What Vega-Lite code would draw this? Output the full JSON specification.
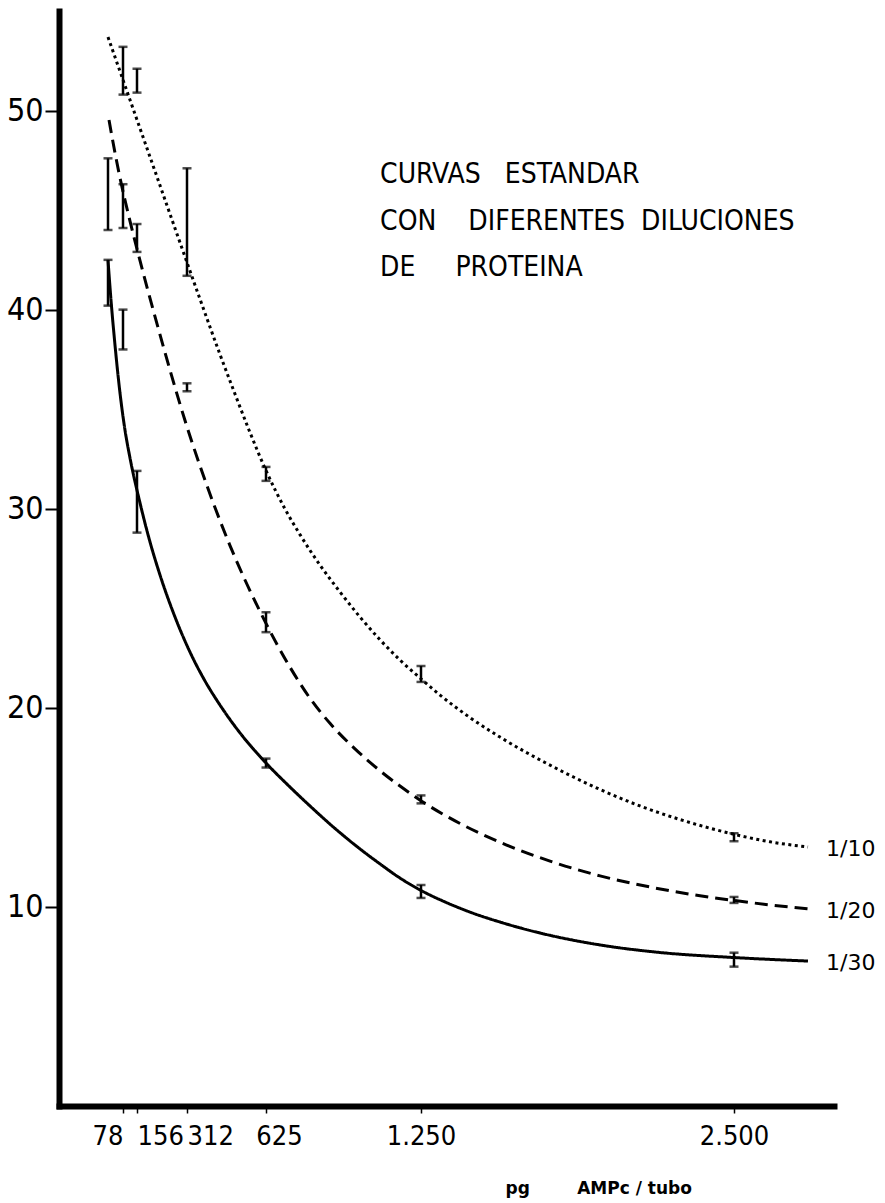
{
  "$schema": "https://vega.github.io/schema/vega-lite/v6.json",
  "autosize": "none",
  "padding": {"left": 59, "top": 11, "right": 51, "bottom": 97},
  "width": 775,
  "height": 1095,
  "background": "white",
  "config": {"view": {"stroke": null}},
  "datasets": {
    "curves": [
      {"series": "1/10", "x": 0, "y": 53.69},
      {"series": "1/10", "x": 196.6, "y": 47.67},
      {"series": "1/10", "x": 363.5, "y": 40.53},
      {"series": "1/10", "x": 442.7, "y": 37.75},
      {"series": "1/10", "x": 502.2, "y": 35.76},
      {"series": "1/10", "x": 561.6, "y": 33.83},
      {"series": "1/10", "x": 625, "y": 31.92},
      {"series": "1/10", "x": 701.6, "y": 29.99},
      {"series": "1/10", "x": 762.1, "y": 28.7},
      {"series": "1/10", "x": 842.7, "y": 27.17},
      {"series": "1/10", "x": 923.4, "y": 25.82},
      {"series": "1/10", "x": 1004, "y": 24.56},
      {"series": "1/10", "x": 1084.6, "y": 23.42},
      {"series": "1/10", "x": 1165.3, "y": 22.4},
      {"series": "1/10", "x": 1245.9, "y": 21.5},
      {"series": "1/10", "x": 1325.9, "y": 20.64},
      {"series": "1/10", "x": 1445.7, "y": 19.51},
      {"series": "1/10", "x": 1565.5, "y": 18.53},
      {"series": "1/10", "x": 1765.2, "y": 17.12},
      {"series": "1/10", "x": 1964.9, "y": 15.9},
      {"series": "1/10", "x": 2124.7, "y": 15.07},
      {"series": "1/10", "x": 2284.4, "y": 14.39},
      {"series": "1/10", "x": 2496, "y": 13.66},
      {"series": "1/10", "x": 2644, "y": 13.27},
      {"series": "1/10", "x": 2796, "y": 13.01},
      {"series": "1/20", "x": 5.2, "y": 49.53},
      {"series": "1/20", "x": 31.2, "y": 48.14},
      {"series": "1/20", "x": 62.4, "y": 46.62},
      {"series": "1/20", "x": 117, "y": 44.45},
      {"series": "1/20", "x": 165.4, "y": 42.46},
      {"series": "1/20", "x": 212.2, "y": 39.65},
      {"series": "1/20", "x": 259, "y": 36.96},
      {"series": "1/20", "x": 305.8, "y": 34.43},
      {"series": "1/20", "x": 363.5, "y": 32.15},
      {"series": "1/20", "x": 422.9, "y": 30.06},
      {"series": "1/20", "x": 482.4, "y": 28.15},
      {"series": "1/20", "x": 541.8, "y": 26.42},
      {"series": "1/20", "x": 601.2, "y": 24.84},
      {"series": "1/20", "x": 625, "y": 24.24},
      {"series": "1/20", "x": 721.8, "y": 22.04},
      {"series": "1/20", "x": 802.4, "y": 20.48},
      {"series": "1/20", "x": 883, "y": 19.22},
      {"series": "1/20", "x": 983.8, "y": 17.94},
      {"series": "1/20", "x": 1084.6, "y": 16.84},
      {"series": "1/20", "x": 1165.3, "y": 16.07},
      {"series": "1/20", "x": 1254, "y": 15.3},
      {"series": "1/20", "x": 1405.8, "y": 14.19},
      {"series": "1/20", "x": 1565.5, "y": 13.25},
      {"series": "1/20", "x": 1765.2, "y": 12.3},
      {"series": "1/20", "x": 1964.9, "y": 11.56},
      {"series": "1/20", "x": 2164.6, "y": 11.0},
      {"series": "1/20", "x": 2364.3, "y": 10.56},
      {"series": "1/20", "x": 2496, "y": 10.33},
      {"series": "1/20", "x": 2644, "y": 10.1},
      {"series": "1/20", "x": 2796, "y": 9.9},
      {"series": "1/30", "x": 0, "y": 42.49},
      {"series": "1/30", "x": 15.6, "y": 40.48},
      {"series": "1/30", "x": 36.4, "y": 38.22},
      {"series": "1/30", "x": 62.4, "y": 35.81},
      {"series": "1/30", "x": 89.1, "y": 33.95},
      {"series": "1/30", "x": 117, "y": 32.55},
      {"series": "1/30", "x": 165.4, "y": 30.29},
      {"series": "1/30", "x": 196.6, "y": 28.33},
      {"series": "1/30", "x": 227.8, "y": 26.67},
      {"series": "1/30", "x": 274.6, "y": 24.56},
      {"series": "1/30", "x": 323.9, "y": 22.8},
      {"series": "1/30", "x": 383.3, "y": 21.35},
      {"series": "1/30", "x": 442.7, "y": 20.14},
      {"series": "1/30", "x": 522, "y": 18.74},
      {"series": "1/30", "x": 625, "y": 17.23},
      {"series": "1/30", "x": 721.8, "y": 16.02},
      {"series": "1/30", "x": 802.4, "y": 15.07},
      {"series": "1/30", "x": 883, "y": 14.16},
      {"series": "1/30", "x": 983.8, "y": 13.11},
      {"series": "1/30", "x": 1084.6, "y": 12.16},
      {"series": "1/30", "x": 1165.3, "y": 11.45},
      {"series": "1/30", "x": 1254, "y": 10.8},
      {"series": "1/30", "x": 1345.9, "y": 10.25},
      {"series": "1/30", "x": 1445.7, "y": 9.74},
      {"series": "1/30", "x": 1565.5, "y": 9.24},
      {"series": "1/30", "x": 1725.3, "y": 8.69},
      {"series": "1/30", "x": 1964.9, "y": 8.09},
      {"series": "1/30", "x": 2204.6, "y": 7.71},
      {"series": "1/30", "x": 2496, "y": 7.46},
      {"series": "1/30", "x": 2796, "y": 7.28}
    ],
    "bars": [
      {"series": "1/10", "x": 78, "lo": 50.8, "hi": 53.2},
      {"series": "1/10", "x": 156, "lo": 50.9, "hi": 52.1},
      {"series": "1/10", "x": 312, "lo": 41.7, "hi": 47.1},
      {"series": "1/10", "x": 625, "lo": 31.4, "hi": 32.1},
      {"series": "1/10", "x": 1250, "lo": 21.3, "hi": 22.1},
      {"series": "1/10", "x": 2500, "lo": 13.3, "hi": 13.7},
      {"series": "1/20", "x": 0, "lo": 44.0, "hi": 47.6},
      {"series": "1/20", "x": 78, "lo": 44.1, "hi": 46.3},
      {"series": "1/20", "x": 156, "lo": 42.9, "hi": 44.3},
      {"series": "1/20", "x": 312, "lo": 35.9, "hi": 36.3},
      {"series": "1/20", "x": 625, "lo": 23.8, "hi": 24.8},
      {"series": "1/20", "x": 1250, "lo": 15.2, "hi": 15.6},
      {"series": "1/20", "x": 2500, "lo": 10.2, "hi": 10.5},
      {"series": "1/30", "x": 0, "lo": 40.2, "hi": 42.5},
      {"series": "1/30", "x": 78, "lo": 38.0, "hi": 40.0},
      {"series": "1/30", "x": 156, "lo": 28.8, "hi": 31.9},
      {"series": "1/30", "x": 625, "lo": 17.0, "hi": 17.45},
      {"series": "1/30", "x": 1250, "lo": 10.45, "hi": 11.1},
      {"series": "1/30", "x": 2500, "lo": 7.0, "hi": 7.7}
    ]
  },
  "layer": [
    {
      "data": {"name": "curves"},
      "mark": {"type": "line", "color": "black", "strokeWidth": 3, "strokeCap": "butt", "interpolate": "monotone"},
      "encoding": {
        "x": {
          "field": "x", "type": "quantitative",
          "scale": {"domain": [-250, 0, 78, 156, 312, 625, 1250, 2500, 2900], "range": [0, 49, 64, 78, 128, 207, 362, 675, 775], "nice": false, "zero": false},
          "axis": {
            "values": [78, 156, 312, 625, 1250, 2500],
            "format": "d",
            "labelExpr": "datum.value == 1250 ? '1.250' : datum.value == 2500 ? '2.500' : datum.label",
            "labelFont": "Liberation Sans Narrow, DejaVu Sans Condensed",
            "labelFontSize": 27,
            "labelColor": "black",
            "labelPadding": 10,
            "labelOverlap": false,
            "labelBound": false,
            "labelFlush": false,
            "labelAlign": {"condition": [{"test": "datum.value == 78", "value": "right"}, {"test": "datum.value == 156 || datum.value == 312", "value": "left"}], "value": "center"},
            "labelOffset": {"condition": {"test": "datum.value == 625", "value": 13}, "value": 0},
            "tickSize": 7, "tickWidth": 1.5, "tickColor": "black",
            "domainColor": "black", "domainWidth": 6, "domainCap": "square",
            "grid": false,
            "title": "pg\u00a0\u00a0\u00a0\u00a0\u00a0\u00a0\u00a0\u00a0AMPc / tubo",
            "titleFont": "DejaVu Sans", "titleFontSize": 17, "titleFontWeight": "bold", "titleColor": "black",
            "titleAnchor": "start", "titleAlign": "left", "titleX": 446, "titleY": 87, "titleBaseline": "alphabetic"
          }
        },
        "y": {
          "field": "y", "type": "quantitative",
          "scale": {"domain": [0, 55], "nice": false, "zero": false},
          "axis": {
            "values": [10, 20, 30, 40, 50],
            "labelFont": "Liberation Sans Narrow, DejaVu Sans Condensed",
            "labelFontSize": 32, "labelColor": "black", "labelPadding": 2,
            "tickSize": 14, "tickWidth": 2, "tickColor": "black",
            "domainColor": "black", "domainWidth": 6, "domainCap": "square",
            "grid": false, "title": null
          }
        },
        "strokeDash": {
          "field": "series", "type": "nominal",
          "scale": {"domain": ["1/10", "1/20", "1/30"], "range": [[3, 3.5], [13, 7], [1, 0]]},
          "legend": null
        }
      }
    },
    {
      "data": {"name": "bars"},
      "mark": {"type": "errorbar", "ticks": {"size": 9, "thickness": 2.5, "color": "black"}, "rule": {"strokeWidth": 2.5, "color": "black"}},
      "encoding": {
        "x": {"field": "x", "type": "quantitative"},
        "y": {"field": "lo", "type": "quantitative", "title": null},
        "y2": {"field": "hi"}
      }
    },
    {
      "data": {"name": "curves"},
      "transform": [{"filter": "datum.x == 2796"}],
      "mark": {"type": "text", "align": "left", "baseline": "middle", "dx": 18, "dy": 2, "font": "DejaVu Sans", "fontSize": 22, "color": "black"},
      "encoding": {
        "x": {"field": "x", "type": "quantitative"},
        "y": {"field": "y", "type": "quantitative"},
        "text": {"field": "series"}
      }
    },
    {
      "data": {"values": [{}]},
      "mark": {"type": "text", "align": "left", "baseline": "top", "font": "Liberation Sans Narrow, DejaVu Sans Condensed", "fontSize": 28, "lineHeight": 46.5, "color": "black"},
      "encoding": {
        "x": {"datum": 1085, "type": "quantitative"},
        "y": {"datum": 47.45, "type": "quantitative"},
        "text": {"value": ["CURVAS\u00a0\u00a0\u00a0ESTANDAR", "CON\u00a0\u00a0\u00a0\u00a0DIFERENTES\u00a0\u00a0DILUCIONES", "DE\u00a0\u00a0\u00a0\u00a0\u00a0PROTEINA"]}
      }
    }
  ]
}
